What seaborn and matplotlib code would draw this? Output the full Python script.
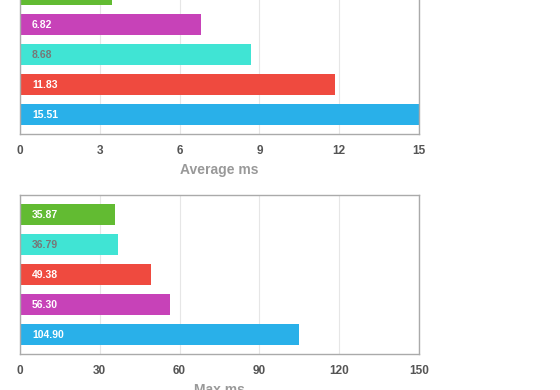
import matplotlib
matplotlib.use("Agg")
import matplotlib.pyplot as plt
import pandas as pd
import seaborn as sns

# series colours keyed by a (hidden) series name
series = ["green", "magenta", "turquoise", "red", "blue"]
colors = {
    "green": "#62bb32",
    "magenta": "#c742b8",
    "turquoise": "#40e4d4",
    "red": "#ef4a3f",
    "blue": "#29b0e9",
}

avg_series = ["green", "magenta", "turquoise", "red", "blue"]
avg_values = [3.46, 6.82, 8.68, 11.83, 15.51]

max_series = ["green", "turquoise", "red", "magenta", "blue"]
max_values = [35.87, 36.79, 49.38, 56.30, 104.90]

avg_ticks = [0, 3, 6, 9, 12, 15]
max_ticks = [0, 30, 60, 90, 120, 150]

sns.set_theme(style="white")
plt.rcParams["font.family"] = ["Liberation Sans", "DejaVu Sans"]


def draw_panel(ax, names, values, ticks, xlabel, show_first_label=True):
    df = pd.DataFrame({"name": names, "value": values})
    sns.barplot(data=df, x="value", y="name", hue="name", order=names,
                palette=colors, width=0.667, legend=False, ax=ax,
                saturation=1, edgecolor="none")
    ax.set_xlim(ticks[0], ticks[-1])
    ax.set_ylim(len(names) - 0.35, -0.65)
    ax.set_xticks(ticks)
    ax.set_yticks([])
    ax.set_ylabel("")
    ax.set_xlabel(xlabel, fontsize=10, fontweight="bold", color="#999999", labelpad=4)
    ax.tick_params(axis="x", length=0, pad=8, labelsize=8.5, labelcolor="#555555")
    for lab in ax.get_xticklabels():
        lab.set_fontweight("bold")
    ax.grid(axis="x", color="#e6e6e6", lw=0.8)
    ax.set_axisbelow(True)
    for sp in ax.spines.values():
        sp.set_color("#aaaaaa")
        sp.set_linewidth(1.0)
    for i, (n, v) in enumerate(zip(names, values)):
        if i == 0 and not show_first_label:
            continue
        c = "#777777" if n == "turquoise" else "white"
        ax.annotate(f"{v:.2f}", xy=(0, i), xytext=(12, 0), textcoords="offset pixels",
                    ha="left", va="center", fontsize=7.5, fontweight="bold", color=c)


fig = plt.figure(figsize=(5.6, 3.9), dpi=100)
ax1 = fig.add_axes([20 / 560, (390 - 134) / 390, 399 / 560, 159 / 390])
ax2 = fig.add_axes([20 / 560, (390 - 354) / 390, 399 / 560, 159 / 390])

draw_panel(ax1, avg_series, avg_values, avg_ticks, "Average ms", show_first_label=False)
draw_panel(ax2, max_series, max_values, max_ticks, "Max ms")

fig.savefig("out.png", dpi=100)
